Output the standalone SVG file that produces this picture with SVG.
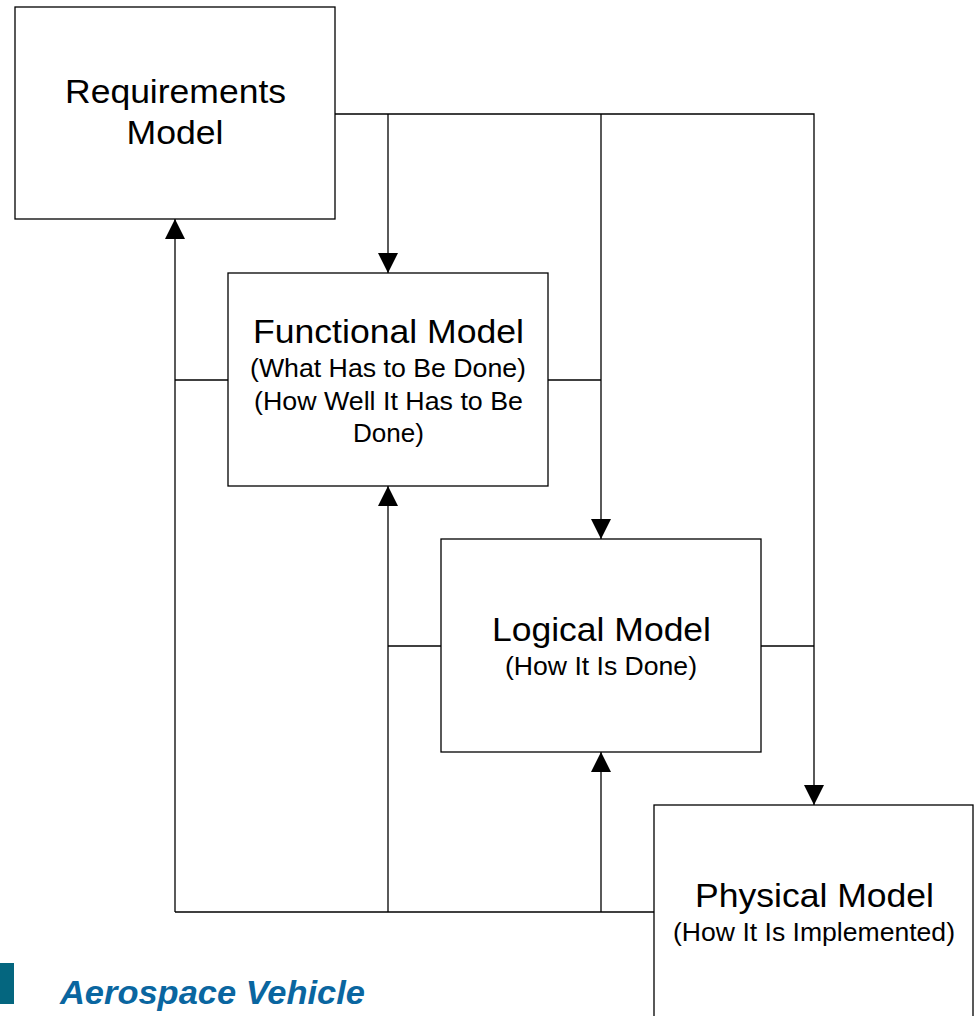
<svg xmlns="http://www.w3.org/2000/svg" width="975" height="1016" viewBox="0 0 975 1016">
  <style>
    .box { fill: #ffffff; stroke: #000000; stroke-width: 1.3; }
    .wire { fill: none; stroke: #000000; stroke-width: 1.3; }
    .title { font-family: "Liberation Sans", Arial, sans-serif; font-size: 34px; fill: #000000; text-anchor: middle; }
    .sub { font-family: "Liberation Sans", Arial, sans-serif; font-size: 25px; fill: #000000; text-anchor: middle; }
    .brand { font-family: "Liberation Sans", Arial, sans-serif; font-size: 33px; font-weight: bold; font-style: italic; fill: #0a66a0; }
  </style>
  <defs>
    <marker id="arrow" viewBox="0 0 20 20" refX="20" refY="10" markerWidth="20" markerHeight="20" markerUnits="userSpaceOnUse" orient="auto">
      <path d="M0,0 L20,10 L0,20 Z" fill="#000000"/>
    </marker>
  </defs>

  <rect width="975" height="1016" fill="#ffffff"/>

  <!-- connectors -->
  <g id="connectors">
    <!-- requirements flow down to each model -->
    <path class="wire" d="M335,114 H814 V805" marker-end="url(#arrow)"/>
    <path class="wire" d="M388,114 V273" marker-end="url(#arrow)"/>
    <path class="wire" d="M601,114 V539" marker-end="url(#arrow)"/>
    <!-- functional back to requirements -->
    <path class="wire" d="M228,380 H175"/>
    <path class="wire" d="M175,912 V219" marker-end="url(#arrow)"/>
    <path class="wire" d="M548,380 H601"/>
    <!-- logical back to functional -->
    <path class="wire" d="M441,646 H388"/>
    <path class="wire" d="M388,912 V486" marker-end="url(#arrow)"/>
    <path class="wire" d="M761,646 H814"/>
    <!-- physical back to the others -->
    <path class="wire" d="M654,912 H175"/>
    <path class="wire" d="M601,912 V752" marker-end="url(#arrow)"/>
  </g>

  <g id="requirements-model">
    <rect class="box" x="15" y="7" width="320" height="212"/>
    <text class="title" x="175.5" y="103" textLength="221" lengthAdjust="spacingAndGlyphs">Requirements</text>
    <text class="title" x="175" y="144" textLength="97" lengthAdjust="spacingAndGlyphs">Model</text>
  </g>

  <g id="functional-model">
    <rect class="box" x="228" y="273" width="320" height="213"/>
    <text class="title" x="388.5" y="343" textLength="271" lengthAdjust="spacingAndGlyphs">Functional Model</text>
    <text class="sub" x="388" y="377" textLength="276" lengthAdjust="spacingAndGlyphs">(What Has to Be Done)</text>
    <text class="sub" x="388.5" y="410" textLength="269" lengthAdjust="spacingAndGlyphs">(How Well It Has to Be</text>
    <text class="sub" x="388.5" y="442" textLength="71" lengthAdjust="spacingAndGlyphs">Done)</text>
  </g>

  <g id="logical-model">
    <rect class="box" x="441" y="539" width="320" height="213"/>
    <text class="title" x="601.5" y="641" textLength="219" lengthAdjust="spacingAndGlyphs">Logical Model</text>
    <text class="sub" x="601" y="675" textLength="192" lengthAdjust="spacingAndGlyphs">(How It Is Done)</text>
  </g>

  <g id="physical-model">
    <rect class="box" x="654" y="805" width="319" height="230"/>
    <text class="title" x="814.5" y="907" textLength="239" lengthAdjust="spacingAndGlyphs">Physical Model</text>
    <text class="sub" x="814" y="941" textLength="282" lengthAdjust="spacingAndGlyphs">(How It Is Implemented)</text>
  </g>

  <g id="footer">
    <rect x="0" y="963" width="14" height="41" fill="#04667f"/>
    <text class="brand" x="60" y="1004" textLength="305" lengthAdjust="spacingAndGlyphs">Aerospace Vehicle</text>
  </g>
</svg>
